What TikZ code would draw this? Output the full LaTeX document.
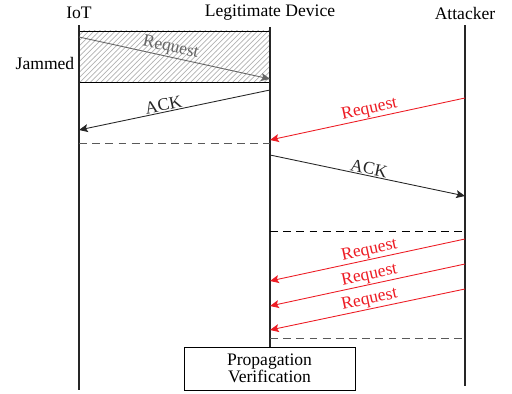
\documentclass[tikz,border=0pt]{standalone}
\usepackage{fontspec}
\setmainfont{Liberation Serif}
\usetikzlibrary{arrows.meta,positioning,patterns,calc}
\definecolor{attackred}{RGB}{237,28,36}

\begin{document}
\begin{tikzpicture}[
    x=0.02cm, y=-0.02cm,
    font=\normalsize,
    >={Stealth[length=5pt,width=4.5pt,inset=1pt]},
    lifeline/.style={line width=0.6pt, black!85},
    msg/.style={->, line width=0.5pt, black!85},
    jammsg/.style={->, line width=0.5pt, gray!80!black},
    attackmsg/.style={->, line width=0.5pt, color=attackred},
    sep/.style={dash pattern=on 4.5pt off 3pt, line width=0.5pt},
    msglabel/.style={above, sloped, inner sep=0.5pt}
]
\useasboundingbox (0,0) rectangle (512,394);

% Teilnehmer
\node (iot) at (79,13) {IoT};
\node (dev) at (270,13) {Legitimate Device};
\node (att) at (465,13) {Attacker};

% Gestoerter Bereich
\fill[pattern=north east lines, pattern color=gray!60] (79,31) rectangle (270,82);
\draw[line width=0.5pt] (79,31) -- (270,31);
\draw[line width=0.5pt] (79,82) -- (270,82);
\node (jam) at (45,63) {Jammed};

% Pruefung
\node[draw, line width=0.5pt, minimum width=171*0.02cm, minimum height=43*0.02cm,
      align=center, inner sep=1pt] (prop) at (269.5,368.5) {Propagation\\[-2pt]Verification};

% Lebenslinien
\coordinate (iotend) at (79,390);
\coordinate (attend) at (465,386);
\draw[lifeline] (iot.south) -- (iotend);
\draw[lifeline] (dev.south) -- (prop.north -| dev);
\draw[lifeline] (att.south) -- (attend);

% Nachrichten
\coordinate (r1s) at (79,37);   \coordinate (r1e) at (270,79);
\coordinate (a1s) at (270,90);  \coordinate (a1e) at (79,130);
\coordinate (x1s) at (465,98);  \coordinate (x1e) at (270,140);
\coordinate (a2s) at (270,155); \coordinate (a2e) at (465,196);
\coordinate (x2s) at (465,239); \coordinate (x2e) at (270,281);
\coordinate (x3s) at (465,264); \coordinate (x3e) at (270,306);
\coordinate (x4s) at (465,289); \coordinate (x4e) at (270,330);

\draw[jammsg] (r1s) -- node[msglabel, text=gray!80!black, pos=0.47] {Request} (r1e);
\draw[msg] (a1s) -- node[msglabel, pos=0.55] {ACK} (a1e);
\draw[attackmsg] (x1s) -- node[msglabel, text=attackred, pos=0.48] {Request} (x1e);
\draw[msg] (a2s) -- node[msglabel, pos=0.5] {ACK} (a2e);
\foreach \m in {x2,x3,x4}
    \draw[attackmsg] (\m s) -- node[msglabel, text=attackred, pos=0.48] {Request} (\m e);

% Trennlinien
\coordinate (d1s) at (79,143);  \coordinate (d1e) at (270,143);
\coordinate (d2s) at (270,231); \coordinate (d2e) at (465,231);
\coordinate (d3s) at (270,338); \coordinate (d3e) at (465,338);
\draw[sep, gray!70!black] (d1s) -- (d1e);
\draw[sep, black] (d2s) -- (d2e);
\draw[sep, gray!70!black] (d3s) -- (d3e);

\end{tikzpicture}
\end{document}
